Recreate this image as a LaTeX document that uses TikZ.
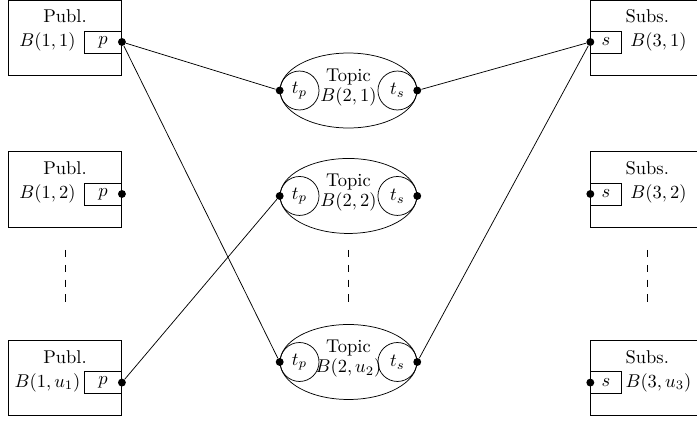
\documentclass[tikz,border=0pt]{standalone}
\usepackage{amsmath}
\usepackage{amssymb}
\usepackage{tikz}
\usetikzlibrary{shapes.geometric}

\tikzset{
  box/.style={draw,minimum width=2.15cm,minimum height=1.43cm},
  pport/.style={draw,minimum width=0.7cm,minimum height=0.42cm,inner sep=0pt},
  sport/.style={draw,minimum width=0.58cm,minimum height=0.42cm,inner sep=0pt},
  topic/.style={draw,ellipse,minimum width=2.6cm,minimum height=1.425cm,inner sep=0pt},
  tport/.style={draw,circle,minimum size=0.74cm,inner sep=0pt},
  dot/.style={circle,fill,inner sep=0pt,minimum size=0.15cm},
  ttext/.style={align=center,inner sep=0pt},
}

\begin{document}
\begin{tikzpicture}
      \useasboundingbox (0,0) rectangle (13.245,8);

      \node[box] (pub1) at (1.235,7.287) {};
      \node (pubt1) at ([yshift=-0.32cm]pub1.north) {Publ.};
      \node[pport,anchor=east] (p1) at ([yshift=-0.085cm]pub1.east) {$p$};
      \node (pb1) at ([xshift=-0.7cm]p1.west) {$B(1,1)$};
      \node[dot] (pd1) at (p1.east) {};

      \node[box] (pub2) at (1.235,4.399) {};
      \node (pubt2) at ([yshift=-0.32cm]pub2.north) {Publ.};
      \node[pport,anchor=east] (p2) at ([yshift=-0.085cm]pub2.east) {$p$};
      \node (pb2) at ([xshift=-0.7cm]p2.west) {$B(1,2)$};
      \node[dot] (pd2) at (p2.east) {};

      \node[box] (pub3) at (1.235,0.815) {};
      \node (pubt3) at ([yshift=-0.32cm]pub3.north) {Publ.};
      \node[pport,anchor=east] (p3) at ([yshift=-0.085cm]pub3.east) {$p$};
      \node (pb3) at ([xshift=-0.7cm]p3.west) {$B(1,u_1)$};
      \node[dot] (pd3) at (p3.east) {};

      \node[topic] (top1) at (6.622,6.28) {};
      \node[tport,anchor=west] (tp1) at (top1.west) {$t_p$};
      \node[tport,anchor=east] (ts1) at (top1.east) {$t_s$};
      \node[ttext] (tt1) at ([yshift=0.06cm]top1.center) {Topic\\[-1pt]$B(2,1)$};
      \node[dot] (tpd1) at (top1.west) {};
      \node[dot] (tsd1) at (top1.east) {};

      \node[topic] (top2) at (6.622,4.276) {};
      \node[tport,anchor=west] (tp2) at (top2.west) {$t_p$};
      \node[tport,anchor=east] (ts2) at (top2.east) {$t_s$};
      \node[ttext] (tt2) at ([yshift=0.06cm]top2.center) {Topic\\[-1pt]$B(2,2)$};
      \node[dot] (tpd2) at (top2.west) {};
      \node[dot] (tsd2) at (top2.east) {};

      \node[topic] (top3) at (6.622,1.121) {};
      \node[tport,anchor=west] (tp3) at (top3.west) {$t_p$};
      \node[tport,anchor=east] (ts3) at (top3.east) {$t_s$};
      \node[ttext] (tt3) at ([yshift=0.06cm]top3.center) {Topic\\[-1pt]$B(2,u_2)$};
      \node[dot] (tpd3) at (top3.west) {};
      \node[dot] (tsd3) at (top3.east) {};

      \node[box] (sub1) at (12.30,7.287) {};
      \node (subt1) at ([yshift=-0.32cm]sub1.north) {Subs.};
      \node[sport,anchor=west] (s1) at ([yshift=-0.085cm]sub1.west) {$s$};
      \node (sb1) at ([xshift=0.7cm]s1.east) {$B(3,1)$};
      \node[dot] (sd1) at (s1.west) {};

      \node[box] (sub2) at (12.30,4.399) {};
      \node (subt2) at ([yshift=-0.32cm]sub2.north) {Subs.};
      \node[sport,anchor=west] (s2) at ([yshift=-0.085cm]sub2.west) {$s$};
      \node (sb2) at ([xshift=0.7cm]s2.east) {$B(3,2)$};
      \node[dot] (sd2) at (s2.west) {};

      \node[box] (sub3) at (12.30,0.815) {};
      \node (subt3) at ([yshift=-0.32cm]sub3.north) {Subs.};
      \node[sport,anchor=west] (s3) at ([yshift=-0.085cm]sub3.west) {$s$};
      \node (sb3) at ([xshift=0.7cm]s3.east) {$B(3,u_3)$};
      \node[dot] (sd3) at (s3.west) {};

      \coordinate (da1) at (1.235,3.25);
      \coordinate (db1) at (1.235,2.26);
      \coordinate (da2) at (6.622,3.25);
      \coordinate (db2) at (6.622,2.26);
      \coordinate (da3) at (12.30,3.25);
      \coordinate (db3) at (12.30,2.26);
      \draw[dash pattern=on 4pt off 4pt] (da1) -- (db1);
      \draw[dash pattern=on 4pt off 4pt] (da2) -- (db2);
      \draw[dash pattern=on 4pt off 4pt] (da3) -- (db3);

      \draw (pd1) -- (tpd1);
      \draw (pd1) -- (tpd3);
      \draw (pd3) -- (tpd2);
      \draw (tsd1) -- (sd1);
      \draw (tsd3) -- (sd1);
    \end{tikzpicture}
\end{document}
